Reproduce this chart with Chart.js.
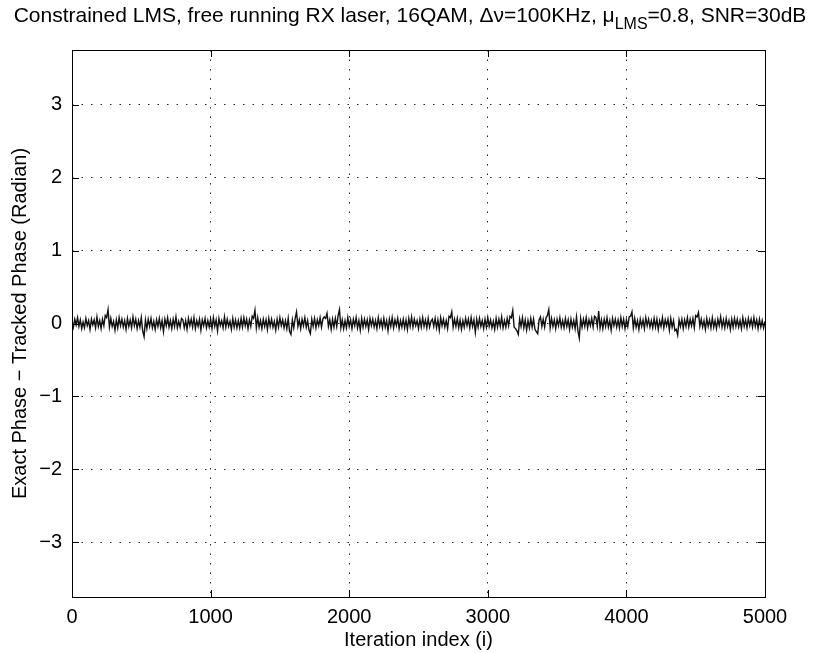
<!DOCTYPE html>
<html>
<head>
<meta charset="utf-8">
<script src="https://cdn.jsdelivr.net/npm/chart.js@4.4.1/dist/chart.umd.min.js"></script>
<style>
  html, body { margin: 0; padding: 0; background: #fff; }
</style>
</head>
<body>
<canvas id="phase" width="816" height="653"></canvas>
<script>
//--------------------------------------------- data
const iterStep = 10;
const xTicks = [0, 1000, 2000, 3000, 4000, 5000];
const yTicks = [-3, -2, -1, 0, 1, 2, 3];
// phase error, one value every 10 iterations
const phaseErr = [
  0.03, -0.05, 0.06, -0.02, 0.08, -0.04, 0.05, -0.07, 0.02, -0.06, 0.07, -0.03, 0.04, -0.08, 0.06, -0.02, 0.05, -0.06, 0.09, -0.04,
  0.04, -0.07, 0.06, -0.03, 0.11, 0.08, 0.19, -0.05, 0.07, -0.04, 0.03, -0.09, 0.05, -0.06, 0.08, -0.03, 0.06, -0.05, 0.04, -0.08,
  0.07, -0.04, 0.05, -0.06, 0.09, -0.03, 0.06, -0.07, 0.04, -0.05, 0.08, -0.10, -0.18, 0.05, -0.07, 0.06, -0.04, 0.07, -0.06, 0.03,
  -0.08, 0.05, -0.04, 0.07, -0.06, 0.04, -0.11, 0.06, -0.03, 0.08, -0.05, 0.04, -0.07, 0.06, -0.04, 0.09, -0.06, 0.03, -0.05, 0.07,
  0.05, -0.06, 0.04, -0.08, 0.07, -0.03, 0.06, -0.05, 0.08, -0.07, 0.04, -0.04, 0.06, -0.09, 0.05, -0.03, 0.07, -0.06, 0.04, -0.05,
  0.06, -0.07, 0.08, -0.04, 0.05, -0.10, 0.07, -0.03, 0.04, -0.06, 0.09, -0.05, 0.06, -0.04, 0.03, -0.08, 0.07, -0.05, 0.05, -0.06,
  0.04, -0.06, 0.07, -0.05, 0.08, -0.03, 0.06, -0.07, 0.05, -0.04, 0.10, 0.07, 0.18, -0.06, 0.08, -0.05, 0.04, -0.07, 0.06, -0.04,
  0.05, -0.08, 0.07, -0.04, 0.06, -0.05, 0.03, -0.09, 0.06, -0.05, 0.08, -0.03, 0.05, -0.06, 0.04, -0.07, 0.07, -0.11, -0.15, 0.05,
  -0.06, 0.07, 0.16, -0.04, 0.05, -0.07, 0.06, -0.03, 0.08, -0.05, 0.04, -0.09, -0.14, 0.06, -0.04, 0.07, -0.06, 0.05, -0.03, 0.08,
  -0.05, 0.06, 0.09, 0.07, 0.14, -0.04, 0.05, -0.08, 0.06, -0.05, 0.07, -0.04, 0.11, 0.19, -0.06, 0.05, -0.07, 0.04, -0.06, 0.08,
  -0.04, 0.05, -0.07, 0.06, -0.03, 0.08, -0.06, 0.04, -0.09, 0.07, -0.05, 0.06, -0.04, 0.05, -0.08, 0.07, -0.03, 0.06, -0.05, 0.04,
  -0.07, 0.08, -0.04, 0.05, -0.06, 0.07, -0.05, 0.04, -0.10, 0.06, -0.04, 0.08, -0.06, 0.05, -0.03, 0.07, -0.07, 0.04, -0.05, 0.06,
  -0.06, 0.05, -0.08, 0.07, -0.04, 0.09, -0.05, 0.06, -0.03, 0.04, -0.07, 0.06, -0.05, 0.08, -0.04, 0.05, -0.06, 0.07, -0.05, 0.03,
  0.06, -0.04, 0.07, -0.06, 0.05, -0.09, 0.08, -0.03, 0.06, -0.05, 0.04, -0.07, 0.10, 0.08, 0.16, -0.05, 0.06, -0.04, 0.07, -0.06,
  0.05, -0.08, 0.04, -0.05, 0.07, -0.03, 0.06, -0.06, 0.08, -0.04, 0.05, -0.12, 0.06, -0.05, 0.07, -0.04, 0.04, -0.07, 0.06, -0.05,
  0.08, -0.04, 0.05, -0.06, 0.03, -0.08, 0.07, -0.05, 0.06, -0.04, 0.09, -0.06, 0.04, -0.05, 0.07, -0.03, 0.10, 0.08, 0.18, -0.05,
  -0.07, -0.10, -0.15, 0.06, -0.04, 0.08, -0.06, 0.05, -0.09, 0.04, -0.06, 0.07, -0.05, 0.06, -0.08, -0.11, -0.14, 0.05, 0.09, -0.04,
  0.06, -0.05, 0.08, 0.11, 0.19, -0.06, 0.07, -0.04, 0.05, -0.07, 0.06, -0.03, 0.08, -0.05, 0.04, -0.06, 0.07, -0.04, 0.05, -0.08,
  0.06, -0.05, 0.04, -0.07, 0.09, -0.10, -0.20, 0.07, -0.05, 0.06, -0.04, 0.08, -0.06, 0.05, -0.03, 0.07, -0.05, 0.10, 0.08, -0.04,
  0.17, -0.06, 0.05, -0.07, 0.06, -0.04, 0.08, -0.05, 0.04, -0.09, 0.07, -0.03, 0.06, -0.05, 0.05, -0.06, 0.08, -0.04, 0.06, -0.07,
  0.05, -0.04, 0.09, 0.10, 0.16, -0.06, 0.07, -0.05, 0.04, -0.08, 0.06, -0.04, 0.05, -0.07, 0.08, -0.03, 0.06, -0.05, 0.04, -0.06,
  0.07, -0.05, 0.06, -0.08, 0.04, -0.04, 0.08, -0.06, 0.05, -0.03, 0.06, -0.09, 0.07, -0.05, 0.04, -0.10, -0.08, -0.16, 0.05, -0.04,
  0.06, -0.07, 0.05, -0.04, 0.08, -0.05, 0.06, -0.03, 0.07, -0.06, 0.11, 0.09, 0.15, -0.04, 0.06, -0.05, 0.04, -0.08, 0.07, -0.04,
  0.05, -0.06, 0.08, -0.05, 0.04, -0.07, 0.06, -0.03, 0.09, -0.05, 0.05, -0.06, 0.07, -0.04, 0.04, -0.08, 0.06, -0.05, 0.07, -0.04,
  0.06, -0.05, 0.04, -0.07, 0.08, -0.04, 0.05, -0.06, 0.07, -0.03, 0.06, -0.05, 0.08, -0.04, 0.05, -0.07, 0.06, -0.05, 0.04, -0.06,
  0.03
];
// title pieces: [text, baseline shift, size]
const titleParts = [
  ['Constrained LMS, free running RX laser, 16QAM, \u0394\u03bd=100KHz, \u03bc', 0, 21],
  ['LMS', 7, 16],
  ['=0.8, SNR=30dB', 0, 21]
];

const FONT = '"Liberation Sans", Arial, Helvetica, sans-serif';

//--------------------------------------------- plugins
const matlabBox = {
  id: 'matlabBox',
  afterDraw(chart) {
    const ctx = chart.ctx;
    const a = chart.chartArea;
    const xs = chart.scales.x, ys = chart.scales.y;
    ctx.save();
    ctx.strokeStyle = '#000';
    ctx.lineWidth = 1;
    ctx.beginPath();
    // inward ticks on all four sides
    xTicks.forEach(v => {
      const px = Math.round(xs.getPixelForValue(v)) + 0.5;
      ctx.moveTo(px, a.bottom); ctx.lineTo(px, a.bottom - 7);
      ctx.moveTo(px, a.top); ctx.lineTo(px, a.top + 7);
    });
    yTicks.forEach(v => {
      const py = Math.round(ys.getPixelForValue(v)) + 0.5;
      ctx.moveTo(a.left, py); ctx.lineTo(a.left + 7, py);
      ctx.moveTo(a.right, py); ctx.lineTo(a.right - 7, py);
    });
    ctx.stroke();
    ctx.strokeRect(Math.round(a.left) + 0.5, Math.round(a.top) + 0.5,
      Math.round(a.right - a.left), Math.round(a.bottom - a.top));

    // title with subscript
    ctx.fillStyle = '#000';
    ctx.textBaseline = 'alphabetic';
    let total = 0;
    titleParts.forEach(p => {
      ctx.font = p[2] + 'px ' + FONT;
      total += ctx.measureText(p[0]).width;
    });
    let x = 410 - total / 2;
    titleParts.forEach(p => {
      ctx.font = p[2] + 'px ' + FONT;
      ctx.fillText(p[0], x, 22 + p[1]);
      x += ctx.measureText(p[0]).width;
    });
    ctx.restore();
  }
};

//--------------------------------------------- chart
const dataPhase = {
  datasets: [{
    data: phaseErr.map((v, i) => ({ x: i * iterStep, y: v })),
    borderColor: '#111',
    borderWidth: 1.4,
    pointRadius: 0,
    tension: 0,
    fill: false
  }]
};

const configPhase = {
  type: 'line',
  data: dataPhase,
  options: {
    responsive: false,
    animation: false,
    layout: { padding: { left: 0, right: 51, top: 50, bottom: 0 } },
    plugins: {
      legend: { display: false },
      tooltip: { enabled: false }
    },
    scales: {
      x: {
        type: 'linear',
        min: 0,
        max: 5000,
        afterBuildTicks: s => { s.ticks = xTicks.map(v => ({ value: v })); },
        afterFit: s => { s.height = 56; },
        grid: { color: 'rgba(0,0,0,0.85)', lineWidth: 1, drawTicks: false },
        border: { display: false, dash: [1.5, 8] },
        ticks: {
          color: '#000',
          padding: 8,
          maxRotation: 0,
          font: { family: FONT, size: 20 },
          callback: v => String(v)
        },
        title: {
          display: true,
          text: 'Iteration index (i)',
          color: '#000',
          font: { family: FONT, size: 20 },
          padding: { top: 0, bottom: 1 }
        }
      },
      y: {
        min: -3.75,
        max: 3.75,
        afterBuildTicks: s => { s.ticks = yTicks.map(v => ({ value: v })); },
        afterFit: s => { s.width = 72; },
        grid: { color: 'rgba(0,0,0,0.85)', lineWidth: 1, drawTicks: false },
        border: { display: false, dash: [1.5, 8] },
        ticks: {
          color: '#000',
          padding: 10,
          font: { family: FONT, size: 20 },
          callback: v => v < 0 ? '\u2212' + Math.abs(v) : String(v)
        },
        title: {
          display: true,
          text: 'Exact Phase \u2212 Tracked Phase (Radian)',
          color: '#000',
          font: { family: FONT, size: 20 },
          padding: { top: 8, bottom: 0 }
        }
      }
    }
  },
  plugins: [matlabBox]
};

var chartPhase = new Chart(
  document.getElementById('phase'),
  configPhase
);
</script>
</body>
</html>
